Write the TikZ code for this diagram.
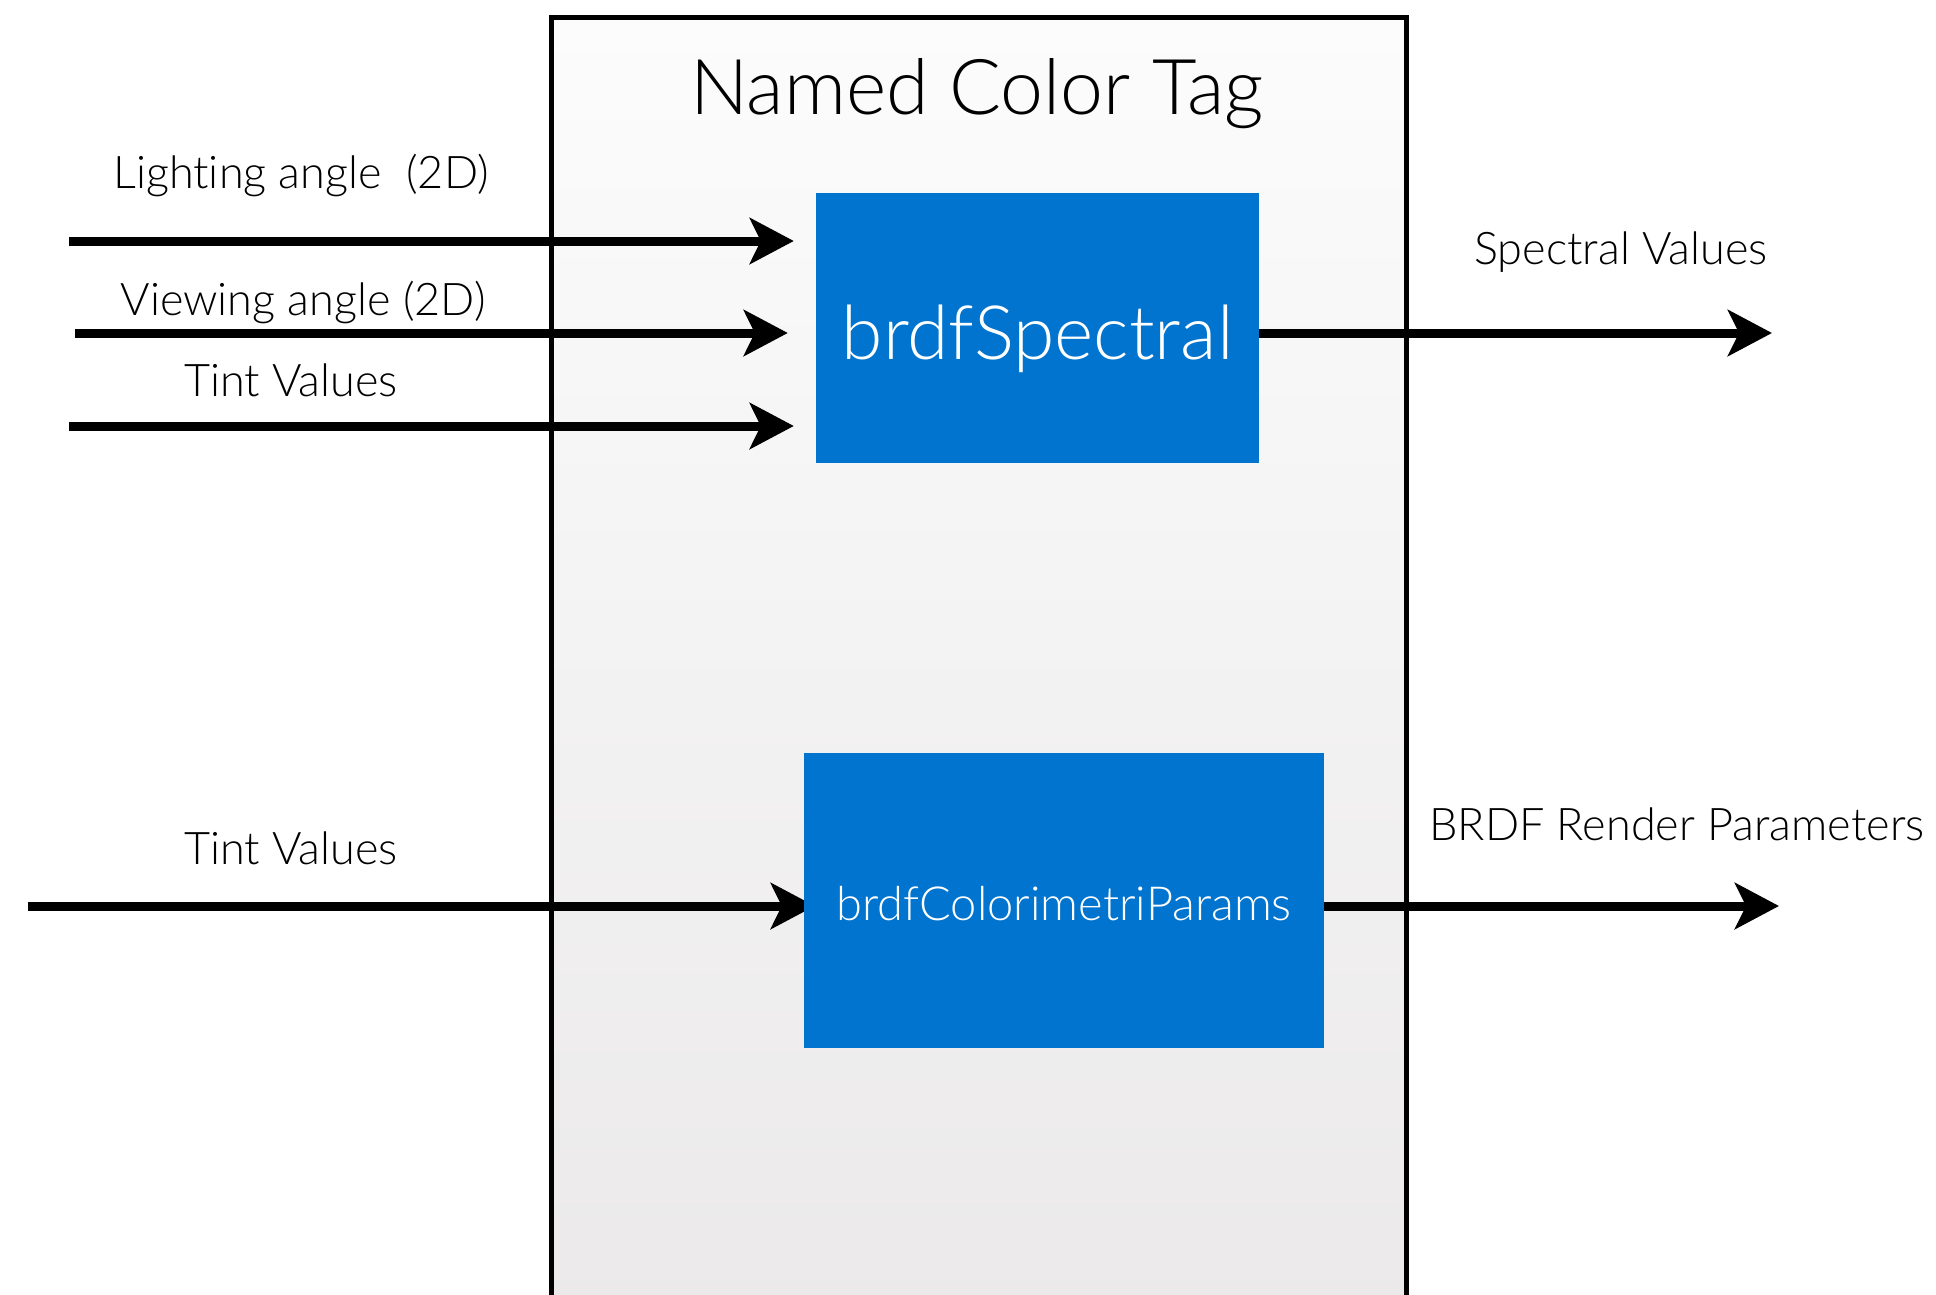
\documentclass[tikz,border=0pt]{standalone}
\usepackage{fontspec}
\setmainfont{Lato Light}[Ligatures={NoCommon}]
\usetikzlibrary{arrows.meta,calc}
\pgfdeclarelayer{bg}
\pgfdeclarelayer{behind}
\pgfsetlayers{bg,behind,main}
\definecolor{boxblue}{HTML}{0074CF}
\definecolor{gradtop}{HTML}{FCFCFD}
\definecolor{gradbot}{HTML}{EBE9EA}
\tikzset{
  arr/.style={line width=9pt, -{Stealth[length=44pt,width=46pt,inset=11pt]}},
  bluebox/.style={fill=boxblue, text=white, inner sep=0pt, text depth=0pt},
  lbl/.style={anchor=base, inner sep=0pt, font=\fontsize{45}{50}\selectfont},
}
\begin{document}
\begin{tikzpicture}[x=1pt,y=-1pt]
\useasboundingbox (0,0) rectangle (1936,1295);
\clip (0,0) rectangle (1936,1295);
\begin{pgfonlayer}{bg}
  \node[draw, line width=5pt, top color=gradtop, bottom color=gradbot,
        minimum width=855pt, minimum height=1300pt, inner sep=0pt] (tag) at (978.5,668) {};
\end{pgfonlayer}
\node[anchor=base, inner sep=0pt, font=\fontsize{77}{84}\selectfont] (title) at (977,115) {Named Color Tag};

\node[bluebox, minimum width=443pt, minimum height=270pt, text height=62pt,
      font=\fontsize{75}{80}\selectfont] (spec) at (1037.5,328) {brdfSpectral};
\node[bluebox, minimum width=520pt, minimum height=295pt, text height=40pt,
      font=\fontsize{47}{52}\selectfont] (colo) at (1064,900.5) {brdfColorimetriParams};

\coordinate (inLight) at (69,241);
\coordinate (inView) at (75,333);
\coordinate (inTint) at (69,426);
\coordinate (inTint2) at (28,906);
\coordinate (outSpec) at (1772,333);
\coordinate (outBrdf) at (1779,906);

\node[lbl] (lLight) at (301,188) {Lighting angle\ \ (2D)};
\node[lbl] (lView) at (303,315) {Viewing angle (2D)};
\node[lbl] (lTint) at (291,396) {Tint Values};
\node[lbl] (lTint2) at (291,864) {Tint Values};
\node[lbl] (lSpec) at (1621,264) {Spectral Values};
\node[lbl] (lBrdf) at (1677,840) {BRDF Render Parameters};

\begin{pgfonlayer}{behind}
  \draw[arr, shorten >=22pt] (inLight) -- (inLight -| spec.west);
  \draw[arr, shorten >=28pt] (inView) -- (inView -| spec.west);
  \draw[arr, shorten >=22pt] (inTint) -- (inTint -| spec.west);
  \draw[arr, shorten >=-11pt] (inTint2) -- (inTint2 -| colo.west);
  \draw[arr] (spec.east |- outSpec) -- (outSpec);
  \draw[arr] (colo.east |- outBrdf) -- (outBrdf);
\end{pgfonlayer}
\end{tikzpicture}
\end{document}
